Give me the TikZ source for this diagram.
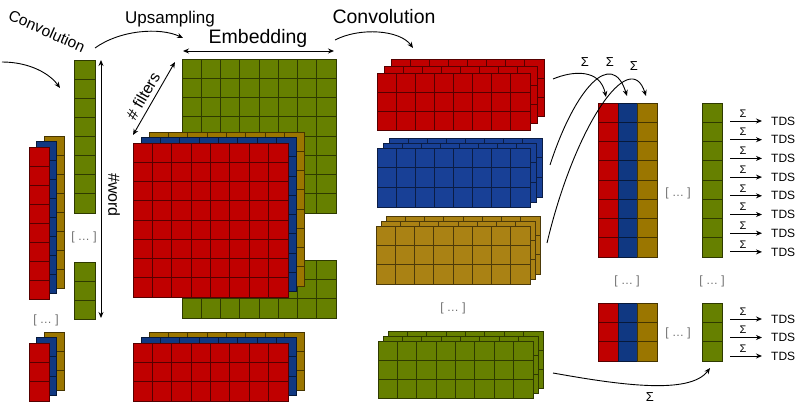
\documentclass[tikz,border=0pt]{standalone}
\usepackage{fontspec}
\setmainfont{Liberation Sans}
\usetikzlibrary{arrows.meta}
\definecolor{cred}{RGB}{192,0,0}
\definecolor{cblue}{RGB}{16,56,130}
\definecolor{cblueL}{RGB}{24,64,150}
\definecolor{cgold}{RGB}{155,118,0}
\definecolor{cgoldL}{RGB}{170,130,20}
\definecolor{cgreen}{RGB}{102,128,0}
\definecolor{cdots}{RGB}{110,110,110}
\newcommand\blk[7]{%
 \pgfmathsetmacro\cw{#5/#3}\pgfmathsetmacro\ch{#6/#4}%
 \foreach \ii in {1,...,#3}{\foreach \jj in {1,...,#4}{%
   \filldraw[fill=#7,draw=#7!45!black,line width=0.8pt] ({#1+(\ii-1)*\cw},{#2+(\jj-1)*\ch}) rectangle ++(\cw,\ch);}}}
\tikzset{
 lbl/.style={inner sep=0pt},
 arr/.style={-{Stealth[length=6pt,width=5pt]}, line width=0.9pt},
 darr/.style={{Stealth[length=6pt,width=5pt]}-{Stealth[length=6pt,width=5pt]}, line width=0.9pt},
 dotsl/.style={inner sep=0pt,text=cdots,font=\fontsize{12}{14}\selectfont},
 sig/.style={inner sep=0pt,font=\fontsize{11}{13}\selectfont},
 tds/.style={inner sep=0pt,anchor=west,font=\fontsize{12}{14}\selectfont}
}
\begin{document}
\begin{tikzpicture}[x=1pt,y=-1pt]
\useasboundingbox (0,0) rectangle (795,403);
% ---- left stacks
\blk{44}{136}{1}{8}{20}{152}{cgold}
\blk{36.5}{141.5}{1}{8}{20}{152}{cblue}
\blk{29}{147}{1}{8}{20}{152}{cred}
\blk{44}{332}{1}{3}{20}{58}{cgold}
\blk{36.5}{337.5}{1}{3}{20}{58}{cblue}
\blk{29}{343}{1}{3}{20}{58}{cred}
% ---- small green column
\blk{74}{60}{1}{8}{21}{153}{cgreen}
\blk{74}{262}{1}{3}{21}{57}{cgreen}
% ---- big blocks
\blk{182}{59}{8}{8}{154}{154}{cgreen}
\blk{182}{260}{8}{3}{154}{58}{cgreen}
\blk{149}{132}{8}{8}{155}{154}{cgold}
\blk{141}{137.5}{8}{8}{155}{154}{cblue}
\blk{133}{143}{8}{8}{155}{154}{cred}
\blk{149}{332}{8}{3}{155}{58}{cgold}
\blk{141}{337.5}{8}{3}{155}{58}{cblue}
\blk{133}{343}{8}{3}{155}{58}{cred}
% ---- middle stacks
\blk{391}{59}{8}{3}{153}{57}{cred}
\blk{384}{66}{8}{3}{153}{57}{cred}
\blk{377}{73}{8}{3}{153}{57}{cred}
\blk{389}{138}{8}{3}{153}{59}{cblueL}
\blk{383}{143}{8}{3}{153}{59}{cblueL}
\blk{377}{148}{8}{3}{153}{59}{cblueL}
\blk{386}{216}{8}{3}{154}{58}{cgoldL}
\blk{381}{221}{8}{3}{154}{58}{cgoldL}
\blk{376}{226}{8}{3}{154}{58}{cgoldL}
\blk{388}{331}{8}{3}{155}{57}{cgreen}
\blk{383}{336}{8}{3}{155}{57}{cgreen}
\blk{378}{341}{8}{3}{155}{57}{cgreen}
% ---- sum columns
\blk{598}{103}{1}{8}{20}{154}{cred}
\blk{618}{103}{1}{8}{19}{154}{cblue}
\blk{637}{103}{1}{8}{20}{154}{cgold}
\blk{702}{103}{1}{8}{20}{154}{cgreen}
\blk{598}{303}{1}{3}{20}{58}{cred}
\blk{618}{303}{1}{3}{19}{58}{cblue}
\blk{637}{303}{1}{3}{20}{58}{cgold}
\blk{702}{303}{1}{3}{20}{58}{cgreen}
% ---- dots
\node[dotsl] (d1) at (46,320) {[ … ]};
\node[dotsl] (d2) at (84,237) {[ … ]};
\node[dotsl] (d3) at (453,308) {[ … ]};
\node[dotsl] (d4) at (627,281) {[ … ]};
\node[dotsl] (d5) at (678,193) {[ … ]};
\node[dotsl] (d6) at (712,281) {[ … ]};
\node[dotsl] (d7) at (678,333) {[ … ]};
% ---- labels
\node[lbl,rotate=-24,font=\fontsize{15.5}{18}\selectfont] (convL) at (47,31) {Convolution};
\node[lbl,font=\fontsize{17}{20}\selectfont] (ups) at (170,19) {Upsampling};
\node[lbl,font=\fontsize{19.5}{23}\selectfont] (emb) at (258,38) {Embedding};
\node[lbl,font=\fontsize{19.5}{23}\selectfont] (convT) at (384,17) {Convolution};
\node[lbl,rotate=60,font=\fontsize{16}{19}\selectfont] (filt) at (143,96) {\# filters};
\node[lbl,rotate=-90,font=\fontsize{16}{19}\selectfont] (word) at (114,195) {\#word};
% ---- coordinates
\coordinate (a1s) at (2,62); \coordinate (a1e) at (60,88);
\coordinate (a2s) at (95,48); \coordinate (a2e) at (183,38);
\coordinate (a3s) at (335,40); \coordinate (a3e) at (413,48);
\coordinate (embL) at (183,51); \coordinate (embR) at (334,51);
\coordinate (filA) at (133,135); \coordinate (filB) at (175,62);
\coordinate (wT) at (101,60); \coordinate (wB) at (101,318);
\coordinate (r1s) at (553,79); \coordinate (r1e) at (606,97);
\coordinate (r2s) at (550,165); \coordinate (r2e) at (627,96);
\coordinate (r3s) at (547,243); \coordinate (r3e) at (646,96);
\coordinate (g4s) at (553,373); \coordinate (g4e) at (710,368);
% ---- arrows
\draw[arr] (a1s) .. controls (30,62) and (50,74) .. (a1e);
\draw[arr] (a2s) .. controls (120,30) and (160,27) .. (a2e);
\draw[arr] (a3s) .. controls (360,27) and (400,30) .. (a3e);
\draw[darr] (embL) -- (embR);
\draw[darr] (filA) -- (filB);
\draw[darr] (wT) -- (wB);
\draw[arr] (r1s) .. controls (572,71) and (600,68) .. (r1e);
\draw[arr] (r2s) .. controls (575,88) and (612,48) .. (r2e);
\draw[arr] (r3s) .. controls (575,125) and (630,46) .. (r3e);
\draw[arr] (g4s) .. controls (620,385) and (690,395) .. (g4e);
\node[lbl,font=\fontsize{13}{15}\selectfont] (s1) at (585,62) {Σ};
\node[lbl,font=\fontsize{13}{15}\selectfont] (s2) at (610,62) {Σ};
\node[lbl,font=\fontsize{13}{15}\selectfont] (s3) at (634,66) {Σ};
\node[lbl,font=\fontsize{13}{15}\selectfont] (s4) at (650,397) {Σ};
% ---- output arrows
\foreach \k in {0,...,7}{
  \pgfmathsetmacro\yy{121+\k*18.7}
  \coordinate (o\k s) at (730,\yy);
  \coordinate (o\k e) at (762,\yy);
  \draw[arr] (o\k s) -- (o\k e);
  \node[sig] (os\k) at (743,\yy-7.5) {Σ};
  \node[tds] (ot\k) at (771,\yy) {TDS};
}
\foreach \k/\yy in {0/319,1/337.5,2/356}{
  \coordinate (p\k s) at (730,\yy);
  \coordinate (p\k e) at (762,\yy);
  \draw[arr] (p\k s) -- (p\k e);
  \node[sig] (ps\k) at (743,\yy-7.5) {Σ};
  \node[tds] (pt\k) at (771,\yy) {TDS};
}
\end{tikzpicture}
\end{document}
